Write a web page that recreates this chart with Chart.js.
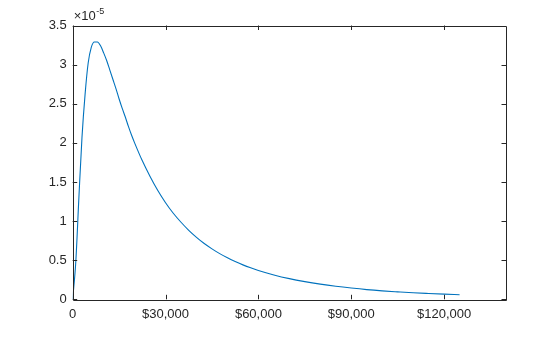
<!DOCTYPE html>
<html>
<head>
<meta charset="utf-8">
<script src="https://cdn.jsdelivr.net/npm/chart.js@4/dist/chart.umd.min.js"></script>
<style>
html,body{margin:0;padding:0;background:#fff;}
#wrap{position:relative;width:560px;height:337px;}
</style>
</head>
<body>
<div id="wrap"><canvas id="c" width="560" height="337"></canvas></div>
<script>
// Income (x) and probability density (in units of 1e-5)
const incomes = [0,1000,2000,3000,4000,5000,6000,7000,8000,9000,10000,11000,12000,13000,14000,15000,16000,17000,18000,19000,20000,22500,25000,27500,30000,32500,35000,37500,40000,42500,45000,47500,50000,52500,55000,57500,60000,65000,70000,75000,80000,85000,90000,95000,100000,105000,110000,115000,120000,125000];
const density = [0,0.48,1.3,2.07,2.62,3.02,3.22,3.29,3.29,3.24,3.15,3.05,2.93,2.81,2.69,2.56,2.44,2.33,2.21,2.10,2.00,1.77,1.57,1.39,1.235,1.10,0.985,0.882,0.792,0.713,0.645,0.584,0.530,0.483,0.440,0.402,0.368,0.311,0.264,0.226,0.194,0.167,0.144,0.124,0.108,0.095,0.083,0.074,0.066,0.059];
const xTicks = [0,30000,60000,90000,120000];
const xTickLabels = ['0','$30,000','$60,000','$90,000','$120,000'];
const yTicks = [0,0.5,1,1.5,2,2.5,3,3.5];
const yTickLabels = ['0','0.5','1','1.5','2','2.5','3','3.5'];
const exponentBase = '\u00d710';
const exponentPower = '-5';

const FONT = '"Liberation Sans", Arial, Helvetica, sans-serif';
const AXIS = '#262626';

const boxPlugin = {
  id: 'box',
  afterDraw(chart) {
    const {ctx, chartArea: a, scales} = chart;
    ctx.save();
    ctx.strokeStyle = AXIS;
    ctx.lineWidth = 1;
    ctx.beginPath();
    ctx.rect(Math.round(a.left)+0.5, Math.round(a.top)+0.5, Math.round(a.right-a.left), Math.round(a.bottom-a.top));
    ctx.stroke();
    const L = 4.5;
    ctx.beginPath();
    scales.x.ticks.forEach(t => {
      const px = Math.round(scales.x.getPixelForValue(t.value)) + 0.5;
      ctx.moveTo(px, a.bottom); ctx.lineTo(px, a.bottom - L);
      ctx.moveTo(px, a.top); ctx.lineTo(px, a.top + L);
    });
    scales.y.ticks.forEach(t => {
      const py = Math.round(scales.y.getPixelForValue(t.value)) + 0.5;
      ctx.moveTo(a.left, py); ctx.lineTo(a.left + L, py);
      ctx.moveTo(a.right, py); ctx.lineTo(a.right - L, py);
    });
    ctx.stroke();
    // exponent label
    ctx.fillStyle = AXIS;
    ctx.textBaseline = 'alphabetic';
    ctx.textAlign = 'left';
    ctx.font = '13px ' + FONT;
    const bx = a.left + 1, by = a.top - 6;
    ctx.fillText(exponentBase, bx, by);
    const w = ctx.measureText(exponentBase).width;
    ctx.font = '9px ' + FONT;
    ctx.fillText(exponentPower, bx + w + 0.5, by - 6);
    ctx.restore();
  }
};

new Chart(document.getElementById('c'), {
  type: 'scatter',
  data: {
    datasets: [{
      data: incomes.map((x, i) => ({x, y: density[i]})),
      showLine: true,
      borderColor: '#0072BD',
      borderWidth: 1.1,
      pointRadius: 0,
      cubicInterpolationMode: 'monotone',
      fill: false
    }]
  },
  options: {
    responsive: false,
    animation: false,
    devicePixelRatio: 1,
    layout: {padding: {left: 0, right: 54, top: 25.5, bottom: 0}},
    plugins: {legend: {display: false}, tooltip: {enabled: false}},
    scales: {
      x: {
        type: 'linear', min: 0, max: 140000,
        afterBuildTicks: s => { s.ticks = xTicks.map(v => ({value: v})); },
        afterFit: s => { s.height = 37.7; },
        border: {display: false},
        grid: {display: false, drawTicks: false},
        ticks: {
          color: AXIS, font: {family: FONT, size: 13}, padding: 7, maxRotation: 0,
          callback: (v) => { const i = xTicks.indexOf(v); return i >= 0 ? xTickLabels[i] : ''; }
        }
      },
      y: {
        type: 'linear', min: 0, max: 3.5,
        afterBuildTicks: s => { s.ticks = yTicks.map(v => ({value: v})); },
        afterFit: s => { s.width = 72.7; },
        border: {display: false},
        grid: {display: false, drawTicks: false},
        ticks: {
          color: AXIS, font: {family: FONT, size: 13}, padding: 6,
          callback: (v) => { const i = yTicks.indexOf(v); return i >= 0 ? yTickLabels[i] : ''; }
        }
      }
    }
  },
  plugins: [boxPlugin]
});
</script>
</body>
</html>
